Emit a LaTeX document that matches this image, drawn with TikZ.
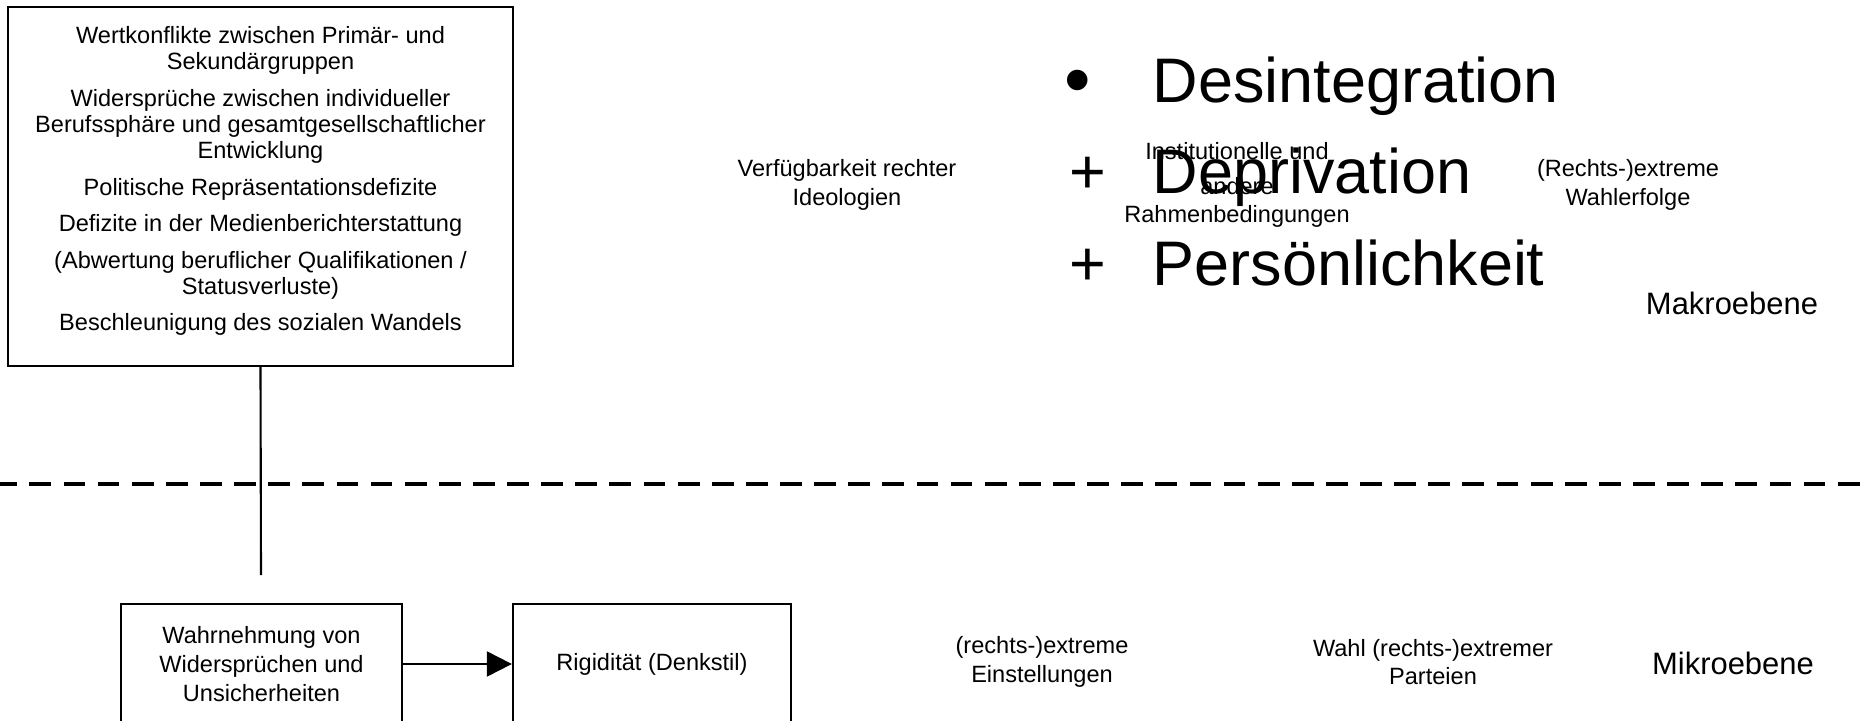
\documentclass[tikz,border=0pt]{standalone}
\usepackage{fontspec}
\setmainfont{Liberation Sans}
\usetikzlibrary{positioning,arrows.meta}

\newcommand{\smallfont}{\fontsize{6.7}{8.2}\selectfont}
\newcommand{\boxfont}{\fontsize{6.7}{7.4}\selectfont}

\tikzset{
  box/.style={draw, line width=0.6pt, align=center, inner sep=0pt},
  txt/.style={align=center, font=\smallfont, inner sep=0pt},
  level/.style={font=\fontsize{8.8}{10}\selectfont, inner sep=0pt},
  bigtxt/.style={font=\fontsize{17.9}{20}\selectfont, inner sep=0pt},
}

\begin{document}
\begin{tikzpicture}[x=0.01cm, y=-0.01cm]
    \useasboundingbox (0,0) rectangle (1865,721);

    % Makroebene: Ursachen
    \node[box, font=\boxfont, text depth=4.4pt, minimum width=5.05cm, minimum height=3.59cm] (wert) at (260.5,186.5)
        {Wertkonflikte zwischen Primär- und\\Sekundärgruppen\\[3pt]Widersprüche zwischen individueller\\Berufssphäre und gesamtgesellschaftlicher\\Entwicklung\\[3pt]Politische Repräsentationsdefizite\\[3pt]Defizite in der Medienberichterstattung\\[3pt](Abwertung beruflicher Qualifikationen /\\Statusverluste)\\[3pt]Beschleunigung des sozialen Wandels};
    \node[txt] (verf) at (847,185) {Verfügbarkeit rechter\\Ideologien};
    \node[txt] (inst) at (1237,185) {Institutionelle und\\[1.7pt]andere\\Rahmenbedingungen};
    \node[txt] (erfolg) at (1628,185) {(Rechts-)extreme\\Wahlerfolge};
    \node[level] (makro) at (1732,303) {Makroebene};

    % Erklaerungsansaetze
    \node[bigtxt, anchor=base, scale=1.2] (bul) at (1078,106) {•};
    \node[bigtxt, anchor=base west] (desint) at (1152,103) {Desintegration};
    \node[bigtxt, anchor=base] (plusA) at (1088,193) {+};
    \node[bigtxt, anchor=base west] (depriv) at (1152,193) {Deprivation};
    \node[bigtxt, anchor=base] (plusB) at (1088,285) {+};
    \node[bigtxt, anchor=base west] (persoen) at (1152,285) {Persönlichkeit};

    % Trennlinie
    \coordinate (sepL) at (-4.7,484);
    \coordinate (sepR) at (1870,484);
    \draw[line width=1.1pt, dash pattern=on 0.218cm off 0.123cm] (sepL) -- (sepR);
    \coordinate (linkend) at (261,575);
    \draw[line width=0.6pt] (wert.south) -- (linkend);

    % Mikroebene
    \node[box, font=\smallfont, minimum width=2.81cm, minimum height=1.2cm] (wahr) at (261.5,664)
        {Wahrnehmung von\\Widersprüchen und\\Unsicherheiten};
    \node[box, font=\smallfont, minimum width=2.78cm, minimum height=1.2cm] (rig) at (652,664)
        {Rigidität (Denkstil)};
    \draw[line width=0.6pt, -{Triangle[length=0.25cm, width=0.25cm]}] (wahr) -- (rig);
    \node[txt] (einst) at (1042,662) {(rechts-)extreme\\Einstellungen};
    \node[txt] (wahl) at (1433,662) {Wahl (rechts-)extremer\\Parteien};
    \node[level] (mikro) at (1733,663) {Mikroebene};
\end{tikzpicture}
\end{document}
